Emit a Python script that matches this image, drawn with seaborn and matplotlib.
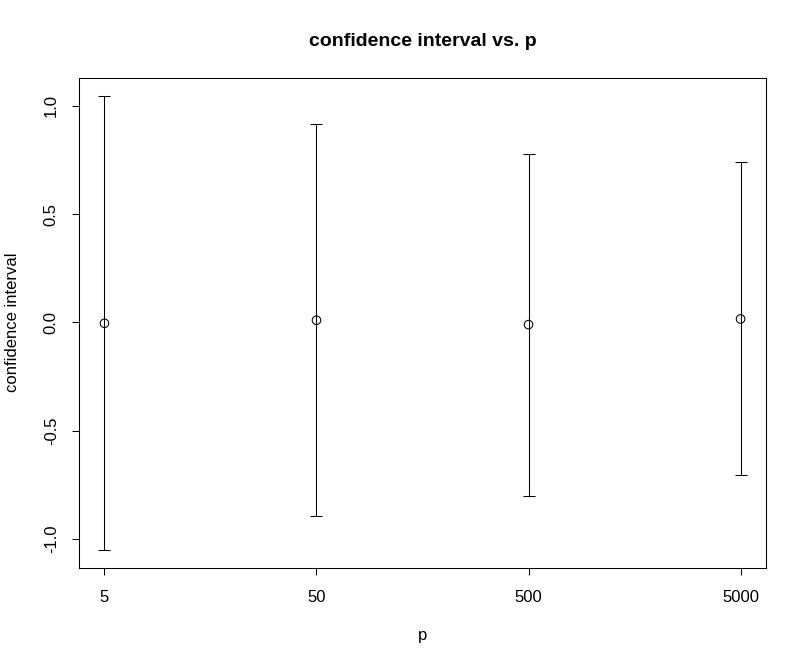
import numpy as np
import pandas as pd
import matplotlib
matplotlib.use("Agg")
import matplotlib.pyplot as plt
import seaborn as sns

# values
p_labels = ["5", "50", "500", "5000"]
center = [-0.004, 0.010, -0.010, 0.016]
upper = [1.045, 0.915, 0.780, 0.739]
lower = [-1.049, -0.894, -0.804, -0.706]

sns.set_theme(style="white")
plt.rcParams['font.family'] = ['Liberation Sans', 'DejaVu Sans']

df = pd.DataFrame({"pos": np.arange(1, len(p_labels) + 1), "center": center,
                   "upper": upper, "lower": lower})

fig = plt.figure(figsize=(8.06, 6.66), dpi=100)
ax = fig.add_axes([79 / 806, 1 - 567.5 / 666, (766 - 79) / 806, (567.5 - 78) / 666])

yerr = [df["center"] - df["lower"], df["upper"] - df["center"]]
ax.errorbar(df["pos"], df["center"], yerr=yerr, fmt="none", ecolor="black",
            elinewidth=0.75, capsize=4.3, capthick=0.75)
sns.scatterplot(data=df, x="pos", y="center", ax=ax, marker="o", s=38,
                facecolors="none", edgecolor="black", linewidth=0.75, zorder=3)

ax.set_xlim(0.88, 4.12)
ax.set_ylim(-1.132, 1.129)
ax.set_xticks(df["pos"])
ax.set_xticklabels(p_labels)
ax.set_yticks([-1.0, -0.5, 0.0, 0.5, 1.0])
ax.set_yticklabels(["-1.0", "-0.5", "0.0", "0.5", "1.0"], rotation=90, va="center")
ax.tick_params(axis="x", direction="out", length=5, width=0.75, color="black",
               labelsize=12, labelcolor="black", pad=11.5, bottom=True)
ax.tick_params(axis="y", direction="out", length=5, width=0.75, color="black",
               labelsize=12, labelcolor="black", pad=9.5, left=True)
for s in ax.spines.values():
    s.set_visible(True)
    s.set_color("black")
    s.set_linewidth(0.75)

ax.set_xlabel("p", fontsize=12, color="black", labelpad=16.5)
ax.set_ylabel("confidence interval", fontsize=12, color="black", labelpad=17)
ax.set_title("confidence interval vs. p", fontsize=14, fontweight="bold",
             color="black", pad=23)
ax.grid(False)

fig.savefig("out.png", dpi=100)
